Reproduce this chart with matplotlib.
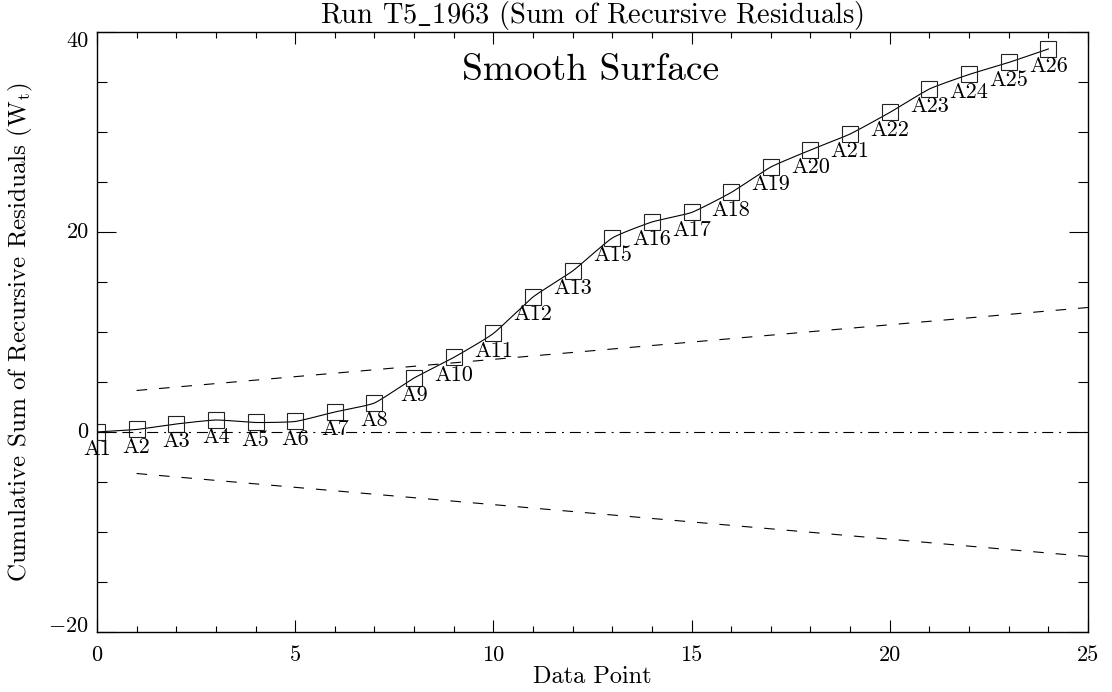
import numpy as np
import matplotlib
matplotlib.use("Agg")
import matplotlib.pyplot as plt
from matplotlib.ticker import MultipleLocator, FixedLocator

plt.rcParams['font.family'] = ['cmr10', 'DejaVu Serif']
plt.rcParams['mathtext.fontset'] = 'cm'
plt.rcParams['lines.scale_dashes'] = False

# cumulative recursive residuals, one value per data point
points = np.arange(25)
wt = [0.0, 0.25, 0.8, 1.2, 0.95, 1.05, 2.0, 2.9, 5.4, 7.45, 9.85, 13.5, 16.1,
      19.4, 21.0, 21.95, 23.95, 26.5, 28.2, 29.8, 31.95, 34.3, 35.75, 36.95, 38.3]
names = ['A1', 'A2', 'A3', 'A4', 'A5', 'A6', 'A7', 'A8', 'A9', 'A10', 'A11', 'A12', 'A13',
         'A15', 'A16', 'A17', 'A18', 'A19', 'A20', 'A21', 'A22', 'A23', 'A24', 'A25', 'A26']

# 5% significance band: starts at x=1, ends at x=25 with three times the offset
band_x = [1, 25]
band_hi = [4.15, 12.45]
band_lo = [-4.15, -12.45]

xticks = [0, 5, 10, 15, 20, 25]
yticks = [-20, 0, 20, 40]
ytick_labels = [r'$-20$', '0', '20', '40']


def cardinal(x, y, tension=0.5, n=20):
    # cardinal spline through every point (tension 0 = Catmull-Rom)
    x = np.asarray(x, float)
    y = np.asarray(y, float)
    px = np.concatenate([[2 * x[0] - x[1]], x, [2 * x[-1] - x[-2]]])
    py = np.concatenate([[2 * y[0] - y[1]], y, [2 * y[-1] - y[-2]]])
    t = np.linspace(0, 1, n, endpoint=False)
    h00 = 2 * t ** 3 - 3 * t ** 2 + 1
    h10 = t ** 3 - 2 * t ** 2 + t
    h01 = -2 * t ** 3 + 3 * t ** 2
    h11 = t ** 3 - t ** 2
    s = (1 - tension) / 2
    xs, ys = [], []
    for i in range(1, len(px) - 2):
        for p, out in ((px, xs), (py, ys)):
            m1 = s * (p[i + 1] - p[i - 1])
            m2 = s * (p[i + 2] - p[i])
            out.append(h00 * p[i] + h10 * m1 + h01 * p[i + 1] + h11 * m2)
    xs.append([x[-1]])
    ys.append([y[-1]])
    return np.concatenate(xs), np.concatenate(ys)


fig = plt.figure(figsize=(11.12, 6.92), dpi=100)
ax = fig.add_axes([0.0872, 0.0867, 0.8912, 0.8671])

sx, sy = cardinal(points, wt)
ax.plot(sx, sy, color='black', lw=0.8)
ax.plot(points, wt, ls='none', marker='s', ms=11, mfc='none', mec='#222222', mew=0.8)
for xi, yi, nm in zip(points, wt, names):
    ax.annotate(nm, (xi, yi), xytext=(0, -5.5), textcoords='offset points',
                ha='center', va='top', fontsize=16)

ax.plot(band_x, band_hi, color='black', lw=0.8, ls=(0, (7.6, 8.6)))
ax.plot(band_x, band_lo, color='black', lw=0.8, ls=(0, (7.6, 8.6)))
ax.plot([0, 25], [0, 0], color='black', lw=0.8, ls=(0, (7.9, 4.3, 1.4, 4.3)))

ax.text(12.45, 36.2, 'Smooth Surface', ha='center', va='center', fontsize=27)

ax.set_xlim(0, 25)
ax.set_ylim(-20, 40)
ax.xaxis.set_major_locator(FixedLocator(xticks))
ax.xaxis.set_minor_locator(MultipleLocator(1))
ax.yaxis.set_major_locator(FixedLocator(yticks))
ax.yaxis.set_minor_locator(MultipleLocator(5))
ax.set_xticklabels([str(v) for v in xticks], fontsize=16)
ax.set_yticklabels(ytick_labels, fontsize=16)
for lab, va in zip(ax.get_yticklabels(), ['baseline', 'center', 'center', 'top']):
    lab.set_va(va)

ax.tick_params(axis='x', which='major', direction='in', length=8.6, width=0.8,
               top=True, pad=10)
ax.tick_params(axis='x', which='minor', direction='in', length=4.3, width=0.8, top=True)
ax.tick_params(axis='y', which='major', direction='in', length=14, width=0.8,
               right=True, pad=6)
ax.tick_params(axis='y', which='minor', direction='in', length=7.2, width=0.8, right=True)
for sp in ax.spines.values():
    sp.set_linewidth(1.0)

ax.set_xlabel('Data Point', fontsize=17.5, va='center')
ax.xaxis.set_label_coords(0.5, -0.075)
ax.set_ylabel(r'Cumulative Sum of Recursive Residuals (W$_\mathrm{t}$)', fontsize=18,
              va='center')
ax.yaxis.set_label_coords(-0.077, 0.5)
fig.text(0.532, 0.977, r'Run T5$\_$1963 (Sum of Recursive Residuals)', ha='center',
         va='center', fontsize=20.5)

fig.savefig('out.png', dpi=100)
